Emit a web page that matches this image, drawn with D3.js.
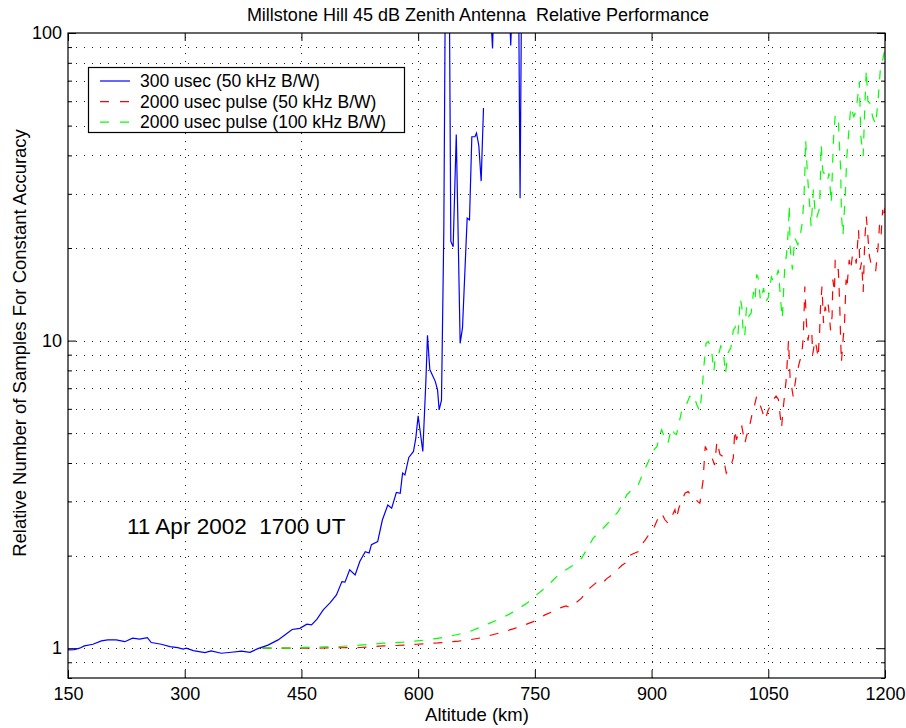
<!DOCTYPE html>
<html>
<head>
<meta charset="utf-8">
<script src="https://cdn.jsdelivr.net/npm/d3@7"></script>
<style>
  html, body { margin: 0; padding: 0; background: #fff; }
  svg { display: block; font-family: "Liberation Sans", Arial, Helvetica, sans-serif; }
  text { white-space: pre; }
</style>
</head>
<body>
<svg id="chart" width="906" height="728"></svg>
<script>
// ---------------- DATA ----------------
const title = "Millstone Hill 45 dB Zenith Antenna  Relative Performance";
const xLabel = "Altitude (km)";
const yLabel = "Relative Number of Samples For Constant Accuracy";
const annotation = "11 Apr 2002  1700 UT";
const xTicks = [150, 300, 450, 600, 750, 900, 1050, 1200];
const yMajorTicks = [1, 10, 100];
const yMinorTicks = [0.8, 0.9, 2, 3, 4, 5, 6, 7, 8, 9, 20, 30, 40, 50, 60, 70, 80, 90];
const seriesNames = ["300 usec (50 kHz B/W)", "2000 usec pulse (50 kHz B/W)", "2000 usec pulse (100 kHz B/W)"];

// [altitude km, relative samples]; null = no data; values > 100 run off the top of the axes
const blue300 = [
  [150,0.987],[158,0.99],[165,1.0],[171,1.017],[182,1.03],[193,1.056],[201,1.064],[212,1.064],[223,1.05],
  [233,1.078],[242,1.07],[252,1.083],[257,1.043],[270,1.03],[281,1.012],[291,1.004],[298,0.993],[302,1.0],
  [311,0.982],[326,0.968],[334,0.98],[347,0.963],[360,0.97],[373,0.978],[384,0.97],[394,0.997],[407,1.023],
  [420,1.064],[430,1.11],[438,1.15],[448,1.16],[457,1.197],[463,1.19],[470,1.243],[478,1.332],[487,1.407],
  [495,1.49],[502,1.646],[506,1.639],[512,1.797],[519,1.73],[525,1.913],[532,2.06],[537,2.04],[540,2.17],
  [548,2.22],[554,2.61],[561,2.92],[566,2.85],[572,3.21],[577,3.19],[580,3.71],[583,3.66],[588,4.17],
  [594,4.36],[597,4.82],[600,5.69],[606,4.36],[610,7.45],[612,10.4],[615,8.05],[622,7.37],[625,6.9],
  [627,5.95],[630,6.4],[633,22.8],[635,150],[640,150],[642,21],[645,20.2],[649,46.8],[654,9.8],[657,11],
  [663,25],[666,24.7],[669,46],[673,46],[675,47.3],[678,43],[681,33],[684,57],[687,null],
  [691,150],[695.6,89],[698,150],[716,150],[719,91],[722,150],[729,150],[731,29],[733,150],[736,150]
];

const red2000_50 = [
  [400,1.0],[420,1.0],[435,1.0],[450,1.0],[465,1.0],[480,1.002],[495,1.003],[510,1.004],[525,1.005],
  [540,1.01],[555,1.017],[570,1.02],[585,1.023],[598,1.03],[611,1.035],[625,1.04],[638,1.047],[652,1.055],
  [666,1.065],[680,1.08],[692,1.1],[707,1.125],[722,1.155],[735,1.185],[748,1.22],[755,1.25],[763,1.283],
  [773,1.316],[782,1.35],[790,1.373],[795,1.355],[802,1.4],[810,1.454],[816,1.527],[822,1.58],[829,1.634],
  [835,1.607],[842,1.68],[849,1.73],[855,1.79],[862,1.86],[866,1.89],[868,1.98],[875,2.02],[883,2.06],
  [887,2.17],[892,2.25],[896,2.33],[902,2.43],[907,2.6],[913,2.75],[917,2.62],[921,2.55],[926,2.68],
  [930,2.82],[932,2.64],[935,2.85],[939,3.03],[943,3.19],[947,3.23],[952,3.11],[956,3.07],[959,3.0],
  [962,2.96],[966,3.48],[969,4.53],[973,4.3],[977,4.2],[981,3.94],[984,4.7],[988,4.26],[992,4.2],
  [996,3.71],[1000,3.9],[1003,4.0],[1005,4.15],[1007,5.13],[1009,4.76],[1012,5.0],[1016,5.26],[1020,4.64],
  [1022,4.9],[1025,5.13],[1029,5.74],[1032,6.1],[1035,6.58],[1038,6.3],[1041,6.03],[1044,5.7],[1046,5.53],
  [1050,5.96],[1054,6.2],[1057,6.44],[1060,6.6],[1063,6.44],[1067,5.2],[1069,5.96],[1073,7.45],[1076,10.0],
  [1078,7.6],[1082,6.58],[1086,7.7],[1090,8.5],[1093,9.0],[1095,10.3],[1096,12.3],[1097,15.0],[1099,11.4],
  [1101,10.0],[1103,10.8],[1106,10.5],[1107,9.0],[1110,10.0],[1112,9.5],[1114,8.8],[1116,10.7],[1117,12.7],
  [1119,15.0],[1121,11.4],[1123,12.9],[1125,12.3],[1127,13.1],[1129,11.7],[1130,10.8],[1132,12.0],[1133,15.8],
  [1135,14.4],[1136,18.3],[1138,17.0],[1140,17.0],[1141,14.8],[1142,12.6],[1143,10.0],[1144,8.5],[1146,10.0],
  [1148,11.4],[1150,15.8],[1151,14.8],[1154,18.3],[1156,17.0],[1158,18.8],[1161,19.2],[1163,17.8],[1166,22.9],
  [1168,17.0],[1170,18.0],[1172,14.4],[1174,21.3],[1176,25.3],[1177,23.5],[1180,18.8],[1182,17.8],[1185,17.4],
  [1188,16.8],[1191,20.0],[1193,23.8],[1195,22.1],[1197,26.6],[1199,25.0],[1200,27.0]
];

const green2000_100 = [
  [400,1.0],[420,1.0],[435,1.0],[450,1.004],[465,1.008],[480,1.01],[495,1.012],[510,1.017],[525,1.023],
  [540,1.03],[555,1.038],[568,1.042],[581,1.046],[596,1.055],[611,1.064],[625,1.077],[638,1.09],[652,1.11],
  [666,1.132],[680,1.17],[692,1.206],[705,1.245],[718,1.293],[730,1.35],[741,1.407],[752,1.49],[763,1.567],
  [772,1.65],[780,1.73],[790,1.8],[799,1.86],[810,1.96],[818,2.12],[825,2.28],[834,2.4],[842,2.52],
  [850,2.65],[857,2.78],[863,2.95],[868,3.15],[876,3.3],[883,3.4],[887,3.6],[890,3.75],[895,4.0],[900,4.26],
  [904,4.45],[907,4.53],[910,4.9],[913,5.13],[917,4.8],[921,4.64],[924,5.0],[926,5.2],[929,5.0],[932,4.95],
  [936,5.5],[939,5.96],[943,6.03],[946,6.3],[949,6.58],[954,6.67],[958,6.2],[962,5.89],[965,6.9],[967,8.13],
  [970,9.8],[973,9.93],[977,9.34],[980,7.94],[982,8.9],[986,9.0],[989,9.6],[992,9.34],[995,7.8],[998,9.1],
  [1002,9.5],[1005,10.8],[1008,11.1],[1011,10.4],[1014,13.7],[1016,12.9],[1018,10.3],[1020,10.5],[1022,12.9],
  [1025,12.0],[1028,12.3],[1031,14.4],[1033,13.5],[1035,16.4],[1037,16.0],[1040,13.5],[1044,14.8],[1047,13.4],
  [1050,13.8],[1054,16.1],[1057,15.5],[1060,16.0],[1063,17.0],[1066,13.4],[1068,11.8],[1071,17.0],[1074,19.7],
  [1076,23.5],[1077,27.6],[1078,20.2],[1081,17.0],[1084,21.6],[1088,20.5],[1091,22.0],[1094,24.4],[1096,30.0],
  [1097,35.0],[1098,45.0],[1100,36.0],[1102,30.0],[1104,26.0],[1105,23.5],[1108,31.0],[1110,26.5],[1112,25.0],
  [1116,27.0],[1118,43.5],[1120,35.6],[1123,34.5],[1126,33.0],[1128,35.0],[1131,28.0],[1133,39.6],[1134,46.0],
  [1136,54.0],[1140,53.5],[1141,45.5],[1143,36.0],[1144,25.6],[1146,22.0],[1149,30.0],[1151,39.8],[1154,49.7],
  [1156,57.6],[1160,53.5],[1163,56.0],[1167,69.6],[1169,46.0],[1172,39.8],[1174,57.5],[1176,76.0],[1178,60.0],
  [1181,59.0],[1184,53.5],[1188,50.4],[1191,60.0],[1194,76.0],[1197,81.6],[1200,89.0]
];

// ---------------- LAYOUT ----------------
const svg = d3.select("#chart");
const L = 68, R = 885, T = 33, B = 678;
const FONT = '"Liberation Sans", Arial, sans-serif';

const x = d3.scaleLinear().domain([150, 1200]).range([L, R]);
const y = d3.scaleLog().domain([0.8, 100]).range([B, T]);

svg.append("defs").append("clipPath").attr("id", "plotClip")
  .append("rect").attr("x", L).attr("y", T).attr("width", R - L).attr("height", B - T);

svg.append("rect").attr("width", 906).attr("height", 728).attr("fill", "#fff");

// dotted grid
const grid = svg.append("g").attr("stroke", "#222").attr("stroke-width", 1)
  .attr("stroke-dasharray", "1,7").attr("shape-rendering", "crispEdges");
xTicks.slice(1, -1).forEach(v => {
  grid.append("line").attr("x1", Math.round(x(v)) + 0.5).attr("x2", Math.round(x(v)) + 0.5)
    .attr("y1", B).attr("y2", T);
});
yMajorTicks.concat(yMinorTicks).filter(v => v > 0.8 && v < 100).forEach(v => {
  grid.append("line").attr("y1", Math.round(y(v)) + 0.5).attr("y2", Math.round(y(v)) + 0.5)
    .attr("x1", L).attr("x2", R);
});

// axes with inward ticks
const axisStyle = g => {
  g.select(".domain").remove();
  g.selectAll("line").attr("stroke", "#000");
  g.selectAll("text").attr("font-size", 18).attr("fill", "#000").attr("font-family", FONT);
};
svg.append("g").attr("transform", `translate(0,${B})`)
  .call(d3.axisBottom(x).tickValues(xTicks).tickFormat(d3.format("d")).tickSizeInner(-8).tickPadding(9))
  .call(axisStyle);
svg.append("g").attr("transform", `translate(0,${T})`)
  .call(d3.axisTop(x).tickValues(xTicks).tickFormat("").tickSizeInner(-8))
  .call(axisStyle);
svg.append("g").attr("transform", `translate(${L},0)`)
  .call(d3.axisLeft(y).tickValues(yMajorTicks).tickFormat(d3.format("d")).tickSizeInner(-8).tickPadding(6))
  .call(axisStyle);
svg.append("g").attr("transform", `translate(${L},0)`)
  .call(d3.axisLeft(y).tickValues(yMinorTicks).tickFormat("").tickSizeInner(-4))
  .call(axisStyle);
svg.append("g").attr("transform", `translate(${R},0)`)
  .call(d3.axisRight(y).tickValues(yMajorTicks).tickFormat("").tickSizeInner(-8))
  .call(axisStyle);
svg.append("g").attr("transform", `translate(${R},0)`)
  .call(d3.axisRight(y).tickValues(yMinorTicks).tickFormat("").tickSizeInner(-4))
  .call(axisStyle);

// series
const line = d3.line().defined(d => d[1] != null).x(d => x(d[0])).y(d => y(d[1]));
const plot = svg.append("g").attr("clip-path", "url(#plotClip)").attr("fill", "none");
plot.append("path").datum(red2000_50).attr("d", line)
  .attr("stroke", "#ff0000").attr("stroke-width", 1.2).attr("stroke-dasharray", "9,10");
plot.append("path").datum(green2000_100).attr("d", line)
  .attr("stroke", "#00ff00").attr("stroke-width", 1.2).attr("stroke-dasharray", "9,10");
plot.append("path").datum(blue300).attr("d", line)
  .attr("stroke", "#0000ff").attr("stroke-width", 1.2);

// frame
svg.append("rect").attr("x", L).attr("y", T).attr("width", R - L).attr("height", B - T)
  .attr("fill", "none").attr("stroke", "#000").attr("stroke-width", 1.2);

// legend
const leg = svg.append("g");
leg.append("rect").attr("x", 88.5).attr("y", 67.5).attr("width", 316).attr("height", 65)
  .attr("fill", "#fff").attr("stroke", "#000").attr("stroke-width", 1.2);
const legColors = ["#0000ff", "#ff0000", "#00ff00"];
const legDash = [null, "9,11", "9,11"];
seriesNames.forEach((name, i) => {
  const yy = 81 + i * 20.6;
  leg.append("line").attr("x1", 100).attr("x2", 130).attr("y1", yy).attr("y2", yy)
    .attr("stroke", legColors[i]).attr("stroke-width", 1.2).attr("stroke-dasharray", legDash[i]);
  leg.append("text").attr("x", 140).attr("y", yy).attr("dy", "0.35em")
    .attr("font-size", 17.5).text(name);
});

// texts
svg.append("text").attr("x", 478).attr("y", 21).attr("text-anchor", "middle")
  .attr("font-size", 18).text(title);
svg.append("text").attr("x", 477).attr("y", 721).attr("text-anchor", "middle")
  .attr("font-size", 18.5).text(xLabel);
svg.append("text").attr("transform", "translate(26,343) rotate(-90)").attr("text-anchor", "middle")
  .attr("font-size", 18.5).text(yLabel);
svg.append("text").attr("x", 127).attr("y", 534)
  .attr("font-size", 22.5).text(annotation);
</script>
</body>
</html>
